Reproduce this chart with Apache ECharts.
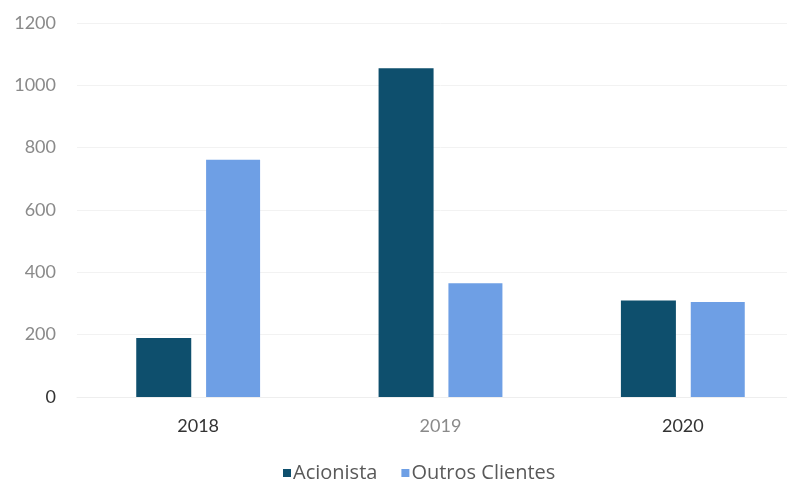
<!DOCTYPE html>
<html>
<head>
<meta charset="utf-8">
<script src="https://cdn.jsdelivr.net/npm/echarts@6/dist/echarts.min.js"></script>
<style>
  html, body { margin: 0; padding: 0; background: #ffffff; overflow: hidden; }
  /* the plot runs slightly past the right edge of the window */
  #chart { width: 804px; height: 486px; }
</style>
</head>
<body>
<div id="chart"></div>
<script>
// Years on the category axis
const years = ['2018', '2019', '2020'];
// Series values
const acionista = [189, 1055, 310];
const outrosClientes = [761, 365, 305];
// Value axis ticks
const yMin = 0;
const yMax = 1200;
const yStep = 200;

const chart = echarts.init(document.getElementById('chart'), null, { renderer: 'canvas' });

const font = 'Lato, "Open Sans", sans-serif';
const legendFont = '"Open Sans", Lato, sans-serif';

chart.setOption({
  animation: false,
  backgroundColor: '#ffffff',
  grid: { left: 77, right: 0, top: 23, height: 374, containLabel: false },
  legend: {
    top: 458,
    left: 278,
    itemWidth: 8,
    itemHeight: 8,
    itemGap: 24,
    icon: 'rect',
    textStyle: { fontFamily: legendFont, fontSize: 20, color: '#595959', padding: [0, 0, 0, -3] },
    data: ['Acionista', 'Outros Clientes']
  },
  xAxis: {
    type: 'category',
    data: years,
    axisLine: { show: true, lineStyle: { color: '#eeeeee', width: 1 } },
    axisTick: { show: false },
    axisLabel: {
      margin: 20,
      fontFamily: font,
      fontSize: 18,
      formatter: function (v) { return v === '2019' ? '{light|' + v + '}' : '{dark|' + v + '}'; },
      rich: {
        dark: { fontFamily: font, fontSize: 18, color: '#333333' },
        light: { fontFamily: font, fontSize: 18, color: '#8a8a8a' }
      }
    }
  },
  yAxis: {
    type: 'value',
    min: yMin,
    max: yMax,
    interval: yStep,
    axisLine: { show: false },
    axisTick: { show: false },
    splitLine: { show: true, lineStyle: { color: '#f2f2f2', width: 1 } },
    axisLabel: {
      margin: 21,
      fontFamily: font,
      fontSize: 18,
      formatter: function (v) { return v === 0 ? '{zero|0}' : '{n|' + v + '}'; },
      rich: {
        zero: { fontFamily: font, fontSize: 18, color: '#333333' },
        n: { fontFamily: font, fontSize: 18, color: '#8a8a8a' }
      }
    }
  },
  series: [
    {
      name: 'Acionista',
      type: 'bar',
      data: acionista,
      barWidth: 55,
      barGap: '27%',
      itemStyle: { color: '#0e4f6d' }
    },
    {
      name: 'Outros Clientes',
      type: 'bar',
      data: outrosClientes,
      barWidth: 54,
      itemStyle: { color: '#6e9fe5' }
    }
  ]
});
</script>
</body>
</html>
